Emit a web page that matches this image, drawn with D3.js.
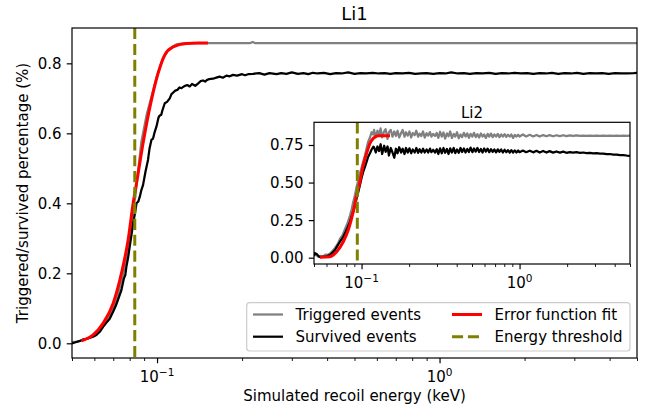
<!DOCTYPE html>
<html><head><meta charset="utf-8">
<script src="https://cdn.jsdelivr.net/npm/d3@7"></script>
<style>
html,body{margin:0;padding:0;background:#fff;}
svg{display:block;font-family:"DejaVu Sans",sans-serif;}
</style></head>
<body>
<svg id="chart" width="647" height="408"></svg>
<script>
// ---------------- data ----------------
const mainTitle = "Li1";
const insetTitle = "Li2";
const xLabel = "Simulated recoil energy (keV)";
const yLabel = "Triggered/survived percentage (%)";
const legendLabels = ["Triggered events", "Survived events", "Error function fit", "Energy threshold"];

const xDomain = [0.05, 5];
const yDomain = [-0.042, 0.901];
const xMajorTicks = [0.1, 1];
const xMajorLabels = [["10", "\u22121"], ["10", "0"]];
const xMinorTicks = [0.05,0.06,0.07,0.08,0.09,0.2,0.3,0.4,0.5,0.6,0.7,0.8,0.9,2,3,4,5];
const mainYTicks = [0, 0.2, 0.4, 0.6, 0.8];
const insetYTicks = [0, 0.25, 0.5, 0.75];

const mainThreshold = 0.0834;
const insetThreshold = 0.094;

// main panel (Li1): [energy keV, fraction]
const mainTriggered = [[0.05,0.003],[0.052,0.005],[0.054,0.008],[0.057,0.014],[0.06,0.025],[0.064,0.045],[0.068,0.075],[0.072,0.125],[0.076,0.2],[0.08,0.3],[0.084,0.43],[0.088,0.575],[0.092,0.655],[0.096,0.71],[0.1,0.765],[0.105,0.815],[0.11,0.84],[0.117,0.854],[0.125,0.858],[0.15,0.858],[0.2,0.858],[0.214,0.858],[0.218,0.861],[0.222,0.858],[0.3,0.858],[0.5,0.858],[1,0.858],[2,0.858],[5,0.858]];

const mainSurvived = [[0.05,0.000],[0.0515,0.003],[0.053,0.006],[0.0547,0.011],[0.0565,0.013],[0.058,0.016],[0.0594,0.019],[0.061,0.024],[0.0627,0.033],[0.0644,0.047],[0.066,0.058],[0.068,0.07],[0.0699,0.09],[0.0715,0.108],[0.073,0.128],[0.0748,0.152],[0.0763,0.185],[0.0772,0.195],[0.0779,0.219],[0.079,0.245],[0.08,0.276],[0.0812,0.31],[0.0823,0.343],[0.0835,0.371],[0.0846,0.40],[0.0858,0.405],[0.0869,0.419],[0.088,0.438],[0.0892,0.452],[0.091,0.49],[0.0929,0.524],[0.094,0.555],[0.0955,0.581],[0.0968,0.585],[0.0982,0.605],[0.0995,0.619],[0.1012,0.645],[0.102,0.65],[0.1035,0.653],[0.1045,0.666],[0.1065,0.686],[0.1085,0.69],[0.1109,0.70],[0.1125,0.712],[0.1139,0.716],[0.116,0.722],[0.118,0.724],[0.12,0.731],[0.122,0.729],[0.125,0.735],[0.128,0.738],[0.1305,0.734],[0.133,0.741],[0.1365,0.736],[0.1396,0.742],[0.1425,0.749],[0.1455,0.751],[0.148,0.748],[0.15,0.752],[0.153,0.755],[0.1578,0.756],[0.162,0.759],[0.1667,0.762],[0.171,0.759],[0.176,0.765],[0.181,0.763],[0.1857,0.767],[0.192,0.765],[0.2,0.769],[0.205,0.766],[0.21,0.769],[0.2186,0.77],[0.23,0.772],[0.24,0.768],[0.25,0.772],[0.265,0.769],[0.275,0.772],[0.287,0.77],[0.3,0.774],[0.315,0.77],[0.33,0.772],[0.343,0.769],[0.3564,0.773],[0.37,0.771],[0.39,0.773],[0.41,0.769],[0.43,0.772],[0.45,0.771],[0.475,0.774],[0.5,0.77],[0.525,0.772],[0.55,0.771],[0.58,0.773],[0.61,0.771],[0.64,0.772],[0.67,0.77],[0.7,0.772],[0.74,0.771],[0.78,0.773],[0.82,0.77],[0.86,0.771],[0.9,0.772],[0.95,0.77],[1.0,0.772],[1.05,0.771],[1.1,0.774],[1.16,0.771],[1.22,0.772],[1.28,0.77],[1.35,0.772],[1.42,0.771],[1.5,0.773],[1.58,0.77],[1.66,0.772],[1.75,0.771],[1.84,0.773],[1.94,0.771],[2.04,0.772],[2.15,0.77],[2.26,0.772],[2.38,0.771],[2.5,0.773],[2.63,0.77],[2.77,0.772],[2.92,0.771],[3.07,0.773],[3.23,0.77],[3.4,0.772],[3.58,0.771],[3.77,0.772],[3.97,0.77],[4.18,0.772],[4.4,0.771],[4.63,0.771],[4.87,0.772],[5.0,0.773]];

const mainFit = [[0.054,0.007],[0.0594,0.024],[0.0644,0.057],[0.0699,0.114],[0.0748,0.2],[0.079,0.295],[0.0823,0.4],[0.085,0.467],[0.0892,0.571],[0.0955,0.695],[0.1008,0.771],[0.1065,0.824],[0.1139,0.847],[0.127,0.857],[0.14,0.858],[0.1514,0.858]];

// inset panel (Li2)
const insetTriggered = [[0.05,0.02],[0.0507,0.03],[0.052,0.015],[0.0535,0.005],[0.055,0.012],[0.0572,0.008],[0.059,0.02],[0.061,0.018],[0.0631,0.028],[0.0655,0.045],[0.0679,0.065],[0.0705,0.09],[0.073,0.125],[0.0758,0.15],[0.0785,0.19],[0.0815,0.23],[0.0845,0.28],[0.0865,0.32],[0.0886,0.37],[0.091,0.42],[0.0931,0.47],[0.0955,0.52],[0.0977,0.56],[0.1,0.6],[0.1025,0.64],[0.105,0.68],[0.1077,0.73],[0.11,0.77],[0.113,0.8],[0.1158,0.835],[0.1186,0.82],
[0.12,0.85],[0.123,0.80],[0.126,0.845],[0.129,0.815],[0.132,0.86],[0.135,0.80],[0.139,0.84],[0.142,0.855],[0.146,0.79],[0.149,0.835],[0.153,0.85],[0.157,0.805],[0.161,0.84],[0.165,0.81],[0.169,0.845],[0.173,0.80],[0.178,0.83],[0.182,0.85],[0.187,0.805],[0.191,0.835],[0.196,0.812],[0.201,0.84],[0.206,0.80],[0.211,0.83],[0.217,0.815],[0.222,0.845],[0.228,0.805],[0.233,0.826],[0.239,0.81],[0.245,0.84],[0.251,0.8],[0.258,0.828],[0.264,0.812],[0.271,0.836],[0.277,0.806],[0.284,0.824],[0.292,0.81],[0.299,0.83],
[0.306,0.797],[0.314,0.838],[0.322,0.806],[0.33,0.833],[0.338,0.793],[0.347,0.827],[0.355,0.808],[0.364,0.84],[0.373,0.797],[0.383,0.824],[0.392,0.806],[0.402,0.835],[0.412,0.795],[0.423,0.82],[0.433,0.802],[0.444,0.831],[0.455,0.806],[0.467,0.827],[0.478,0.797],[0.49,0.824],[0.503,0.806],[0.515,0.831],[0.528,0.802],[0.541,0.822],[0.555,0.8],[0.569,0.827],[0.583,0.806],[0.597,0.82],[0.612,0.797],[0.628,0.824],[0.643,0.806],[0.659,0.826],[0.676,0.802],[0.693,0.82],[0.71,0.806],[0.728,0.824],[0.746,0.802],[0.765,0.82],[0.784,0.806],[0.804,0.822],[0.824,0.804],[0.844,0.818],[0.866,0.806],[0.887,0.82],[0.91,0.797],[0.932,0.817],[0.956,0.806],[0.98,0.818],[1.0,0.806],
[1.05,0.82],[1.1,0.807],[1.16,0.818],[1.22,0.807],[1.28,0.817],[1.34,0.806],[1.41,0.816],[1.48,0.808],[1.55,0.816],[1.63,0.808],[1.71,0.815],[1.8,0.809],[1.89,0.815],[1.98,0.809],[2.08,0.814],[2.18,0.81],[2.29,0.814],[2.41,0.81],[2.53,0.813],[2.65,0.81],[2.79,0.813],[2.93,0.811],[3.07,0.813],[3.23,0.811],[3.39,0.813],[3.56,0.811],[3.73,0.813],[3.92,0.811],[4.12,0.812],[4.32,0.811],[4.54,0.812],[4.76,0.811],[5.0,0.812]];

const insetSurvived = [[0.05,0.01],[0.0507,0.03],[0.052,0.025],[0.0535,0.01],[0.055,0.003],[0.0572,0.007],[0.059,0.005],[0.061,0.012],[0.0631,0.018],[0.0655,0.035],[0.0679,0.051],[0.0705,0.08],[0.073,0.106],[0.0758,0.13],[0.0785,0.162],[0.0815,0.2],[0.0845,0.24],[0.0865,0.275],[0.0886,0.306],[0.091,0.35],[0.0931,0.395],[0.0955,0.44],[0.0977,0.484],[0.1,0.53],[0.1025,0.572],[0.105,0.605],[0.1077,0.639],[0.11,0.67],[0.113,0.695],[0.1158,0.72],[0.1186,0.738],
[0.12,0.735],[0.123,0.70],[0.126,0.74],[0.129,0.71],[0.132,0.755],[0.135,0.69],[0.139,0.745],[0.142,0.705],[0.146,0.74],[0.149,0.68],[0.153,0.73],[0.157,0.70],[0.161,0.665],[0.165,0.725],[0.169,0.695],[0.173,0.735],[0.178,0.70],[0.182,0.725],[0.187,0.69],[0.191,0.73],[0.196,0.70],[0.201,0.728],[0.206,0.695],[0.211,0.72],[0.217,0.70],[0.222,0.73],[0.228,0.698],[0.233,0.722],[0.239,0.70],[0.245,0.725],[0.251,0.70],[0.258,0.72],[0.264,0.70],[0.271,0.726],[0.277,0.702],[0.284,0.718],[0.292,0.70],[0.299,0.722],
[0.306,0.69],[0.314,0.727],[0.322,0.695],[0.33,0.73],[0.338,0.698],[0.347,0.723],[0.355,0.69],[0.364,0.727],[0.373,0.7],[0.383,0.73],[0.392,0.696],[0.402,0.72],[0.412,0.698],[0.423,0.73],[0.433,0.703],[0.444,0.727],[0.455,0.7],[0.467,0.723],[0.478,0.703],[0.49,0.733],[0.503,0.702],[0.515,0.727],[0.528,0.706],[0.541,0.73],[0.555,0.703],[0.569,0.723],[0.583,0.7],[0.597,0.727],[0.612,0.706],[0.628,0.726],[0.643,0.702],[0.659,0.722],[0.676,0.704],[0.693,0.72],[0.71,0.701],[0.728,0.721],[0.746,0.704],[0.765,0.72],[0.784,0.7],[0.804,0.718],[0.824,0.702],[0.844,0.716],[0.866,0.7],[0.887,0.716],[0.91,0.7],[0.932,0.714],[0.956,0.7],[0.98,0.713],[1.0,0.702],
[1.05,0.713],[1.1,0.702],[1.16,0.712],[1.22,0.701],[1.28,0.711],[1.34,0.7],[1.41,0.71],[1.48,0.7],[1.55,0.709],[1.63,0.699],[1.71,0.707],[1.8,0.699],[1.89,0.706],[1.98,0.698],[2.08,0.703],[2.18,0.699],[2.29,0.702],[2.41,0.697],[2.53,0.7],[2.65,0.696],[2.79,0.698],[2.93,0.694],[3.07,0.696],[3.23,0.692],[3.39,0.693],[3.56,0.689],[3.73,0.69],[3.92,0.686],[4.12,0.686],[4.32,0.683],[4.54,0.683],[4.76,0.68],[5.0,0.678]];

const insetFit = [[0.0545,0.003],[0.0631,0.007],[0.0696,0.04],[0.0766,0.106],[0.0824,0.184],[0.0886,0.306],[0.0931,0.417],[0.0977,0.506],[0.1025,0.617],[0.1077,0.695],[0.113,0.761],[0.1186,0.794],[0.1276,0.812],[0.1513,0.812]];

const colors = {triggered:"#808080", survived:"#000000", fit:"#ff0000", threshold:"#808000"};

// ---------------- drawing ----------------
const svg = d3.select("#chart");
const FONT = 15;

function panel(opts) {
  const {box, id, data, thr, yTicks, yFmt, title, titleY, titleSize} = opts;
  const x = d3.scaleLog().domain(xDomain).range([box.l, box.r]);
  const y = d3.scaleLinear().domain(yDomain).range([box.b, box.t]);
  const g = svg.append("g");
  g.append("rect").attr("x", box.l).attr("y", box.t).attr("width", box.r - box.l).attr("height", box.b - box.t).attr("fill", "#fff");
  svg.append("defs").append("clipPath").attr("id", id).append("rect")
    .attr("x", box.l).attr("y", box.t).attr("width", box.r - box.l).attr("height", box.b - box.t);
  const plot = g.append("g").attr("clip-path", `url(#${id})`);
  const line = d3.line().x(d => x(d[0])).y(d => y(d[1]));
  const smooth = d3.line().x(d => x(d[0])).y(d => y(d[1])).curve(d3.curveMonotoneX);
  plot.append("path").attr("d", line(data.trig)).attr("fill", "none").attr("stroke", colors.triggered).attr("stroke-width", 2.25).attr("stroke-linejoin", "round");
  plot.append("path").attr("d", line(data.surv)).attr("fill", "none").attr("stroke", colors.survived).attr("stroke-width", 2.25).attr("stroke-linejoin", "round");
  plot.append("path").attr("d", smooth(data.fit)).attr("fill", "none").attr("stroke", colors.fit).attr("stroke-width", 3).attr("stroke-linecap", "butt");
  plot.append("line").attr("x1", x(thr)).attr("x2", x(thr)).attr("y1", box.t).attr("y2", box.b)
    .attr("stroke", colors.threshold).attr("stroke-width", 3).attr("stroke-dasharray", "11.1,4.8");

  // x axis
  const xAxisMinor = d3.axisBottom(x).tickValues(xMinorTicks).tickSize(3).tickFormat("");
  const xAxisMajor = d3.axisBottom(x).tickValues(xMajorTicks).tickSize(5.25).tickFormat("");
  const gx1 = g.append("g").attr("transform", `translate(0,${box.b})`).call(xAxisMinor);
  const gx2 = g.append("g").attr("transform", `translate(0,${box.b})`).call(xAxisMajor);
  [gx1, gx2].forEach(a => { a.select(".domain").remove(); a.selectAll("line").attr("stroke", "#000"); });
  gx1.selectAll("line").attr("stroke-width", 0.9);
  gx2.selectAll("line").attr("stroke-width", 1.2);
  xMajorTicks.forEach((v, i) => {
    const t = g.append("text").attr("x", x(v)).attr("y", box.b + 23.7).attr("text-anchor", "middle")
      .attr("font-size", FONT).attr("fill", "#000");
    t.append("tspan").text(xMajorLabels[i][0]);
    t.append("tspan").attr("dy", -6).attr("font-size", 10.5).text(xMajorLabels[i][1]);
  });

  // y axis
  const yAxis = d3.axisLeft(y).tickValues(yTicks).tickSize(5.25).tickFormat("");
  const gy = g.append("g").attr("transform", `translate(${box.l},0)`).call(yAxis);
  gy.select(".domain").remove();
  gy.selectAll("line").attr("stroke", "#000").attr("stroke-width", 1.2);
  yTicks.forEach(v => {
    g.append("text").attr("x", box.l - 10.5).attr("y", y(v) + 5.4).attr("text-anchor", "end")
      .attr("font-size", FONT).attr("fill", "#000").text(yFmt(v));
  });

  // frame
  g.append("rect").attr("x", box.l).attr("y", box.t).attr("width", box.r - box.l).attr("height", box.b - box.t)
    .attr("fill", "none").attr("stroke", "#000").attr("stroke-width", 1.2);

  g.append("text").attr("x", (box.l + box.r) / 2).attr("y", titleY).attr("text-anchor", "middle")
    .attr("font-size", titleSize).attr("fill", "#000").text(title);
  return {x, y, g};
}

const mainBox = {l: 72, t: 28, r: 637, b: 358};
const insetBox = {l: 314, t: 122.3, r: 630, b: 264};

panel({box: mainBox, id: "clipMain", data: {trig: mainTriggered, surv: mainSurvived, fit: mainFit}, thr: mainThreshold,
  yTicks: mainYTicks, yFmt: v => v.toFixed(1), title: mainTitle, titleY: 19.5, titleSize: 18});

// axis labels for main
svg.append("text").attr("x", (mainBox.l + mainBox.r) / 2).attr("y", 401).attr("text-anchor", "middle")
  .attr("font-size", FONT).attr("fill", "#000").text(xLabel);
svg.append("text").attr("transform", `translate(28,${(mainBox.t + mainBox.b) / 2}) rotate(-90)`).attr("text-anchor", "middle")
  .attr("font-size", FONT).attr("fill", "#000").text(yLabel);

// legend (main axes, lower right)
const leg = svg.append("g");
leg.append("rect").attr("x", 246.7).attr("y", 302.7).attr("width", 630 - 246.7).attr("height", 351 - 302.7)
  .attr("rx", 3).attr("fill", "#fff").attr("fill-opacity", 0.8).attr("stroke", "#cccccc").attr("stroke-width", 1.2);
const legItems = [
  {label: legendLabels[0], color: colors.triggered, w: 2.25, dash: null, col: 0, row: 0},
  {label: legendLabels[1], color: colors.survived, w: 2.25, dash: null, col: 0, row: 1},
  {label: legendLabels[2], color: colors.fit, w: 3, dash: null, col: 1, row: 0},
  {label: legendLabels[3], color: colors.threshold, w: 3, dash: "11.1,4.8", col: 1, row: 1}
];
const colX = [253, 452];
const rowY = [314.5, 336.7];
legItems.forEach(it => {
  const x0 = colX[it.col], yy = rowY[it.row];
  const l = leg.append("line").attr("x1", x0).attr("x2", x0 + 30).attr("y1", yy).attr("y2", yy)
    .attr("stroke", it.color).attr("stroke-width", it.w);
  if (it.dash) l.attr("stroke-dasharray", it.dash);
  leg.append("text").attr("x", x0 + 42.5).attr("y", yy + 5.4).attr("font-size", FONT).attr("fill", "#000").text(it.label);
});

// inset
panel({box: insetBox, id: "clipInset", data: {trig: insetTriggered, surv: insetSurvived, fit: insetFit}, thr: insetThreshold,
  yTicks: insetYTicks, yFmt: v => v.toFixed(2), title: insetTitle, titleY: 118, titleSize: 15});
</script>
</body></html>
